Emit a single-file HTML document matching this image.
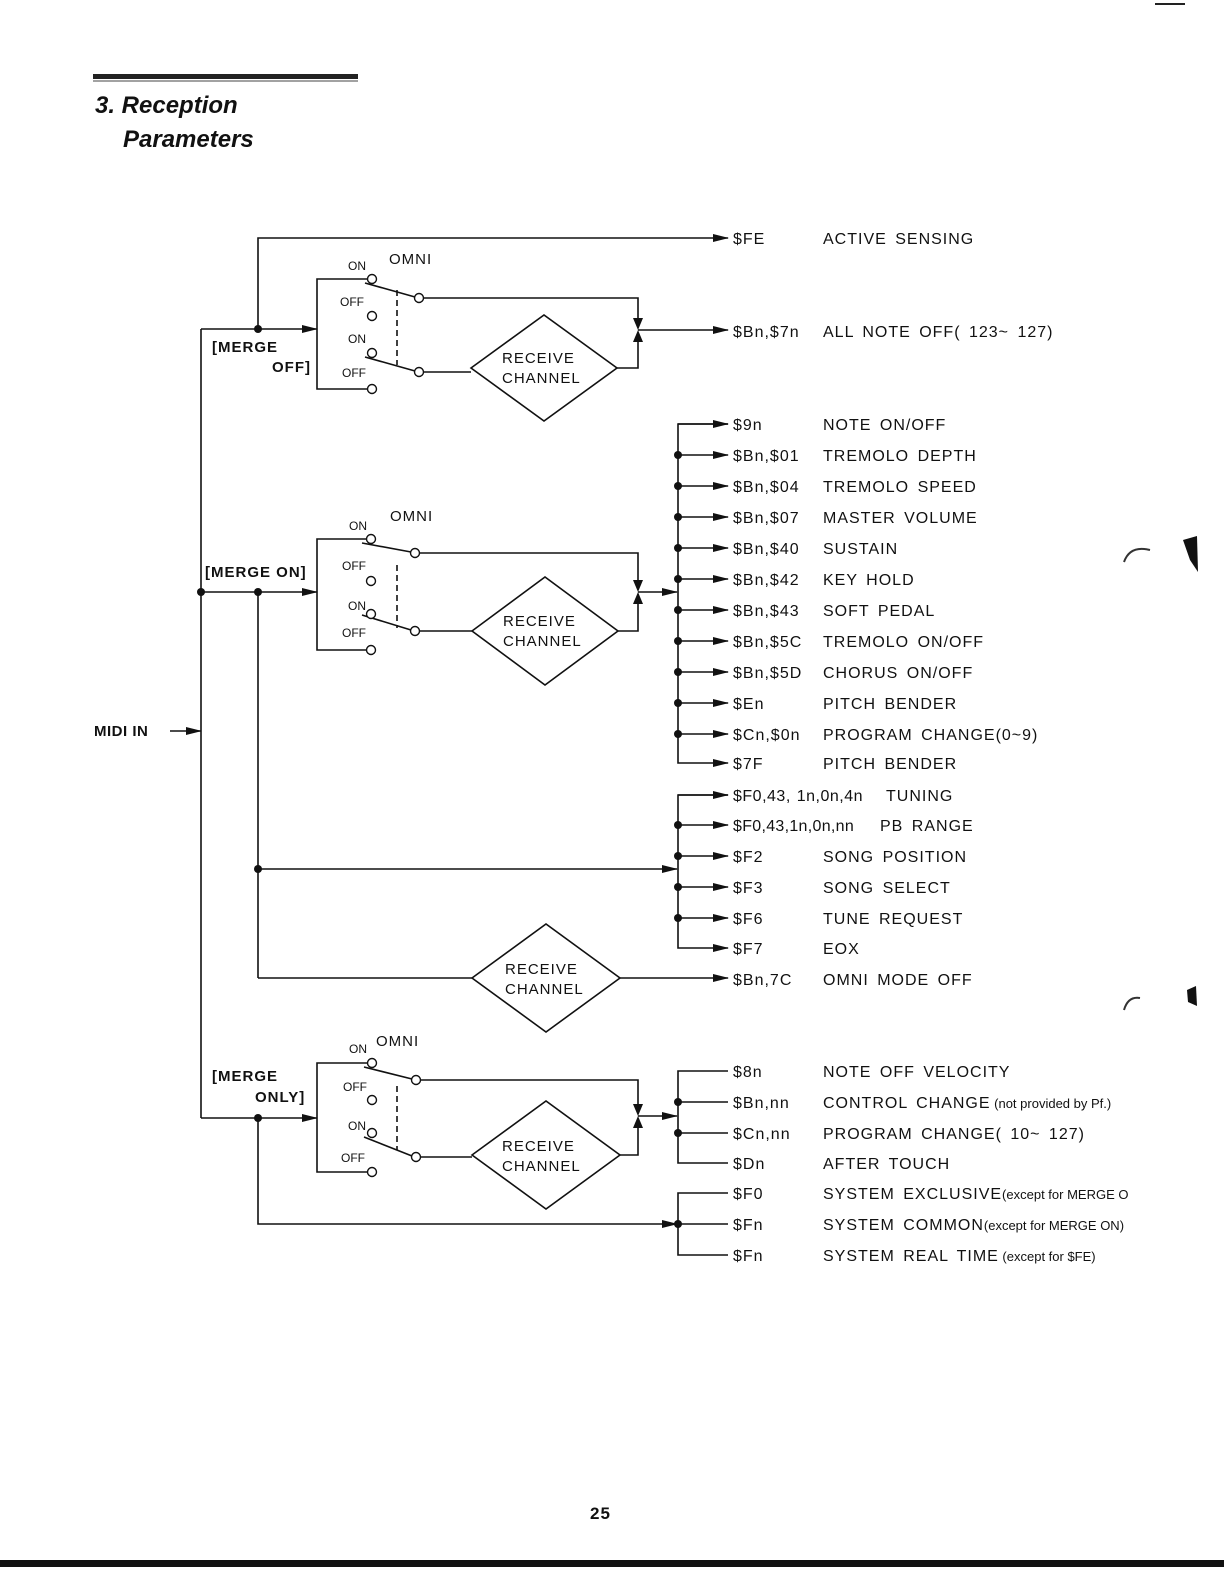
<!DOCTYPE html>
<html><head><meta charset="utf-8"><style>
body{margin:0;background:#fff}
svg{display:block}
text{font-family:"Liberation Sans",sans-serif;fill:#111}
.t{font-size:16px;letter-spacing:1px;word-spacing:3px}
.s{font-size:12px}
.b{font-weight:bold;font-size:15px;letter-spacing:1px}
</style></head><body>
<svg width="1224" height="1584" viewBox="0 0 1224 1584" xmlns="http://www.w3.org/2000/svg">
<defs>
<marker id="a" markerWidth="16" markerHeight="10" refX="15" refY="5" orient="auto" markerUnits="userSpaceOnUse"><path d="M0,1 L16,5 L0,9 Z" fill="#111"/></marker>
</defs>
<rect x="93" y="74" width="265" height="5" fill="#222"/>
<line x1="93" y1="81" x2="358" y2="81" stroke="#444" stroke-width="1"/>
<text x="95" y="113" style="font-size:24px;font-weight:bold;font-style:italic">3. Reception</text>
<text x="123" y="147" style="font-size:24px;font-weight:bold;font-style:italic">Parameters</text>
<line x1="1155" y1="4" x2="1185" y2="4" stroke="#222" stroke-width="2"/>
<g stroke="#111" stroke-width="1.6" fill="none">
<polyline points="258,329 258,238 728,238" marker-end="url(#a)"/>
<line x1="201" y1="329" x2="317" y2="329" marker-end="url(#a)"/>
<polyline points="368,279 317,279 317,389 368,389"/>
<line x1="365" y1="283" x2="415" y2="297"/>
<line x1="365" y1="357" x2="415" y2="371"/>
<line x1="397" y1="290" x2="397" y2="365" stroke-dasharray="6,4"/>
<polyline points="423,298 638,298 638,322"/>
<polyline points="423,372 471,372"/>
<polygon points="471,368 544,315 617,368 544,421"/>
<polyline points="617,368 638,368 638,336"/>
<line x1="638" y1="330" x2="728" y2="330" marker-end="url(#a)"/>
<line x1="201" y1="329" x2="201" y2="1118"/>
<line x1="170" y1="731" x2="201" y2="731" marker-end="url(#a)"/>
<line x1="201" y1="592" x2="317" y2="592" marker-end="url(#a)"/>
<polyline points="366,539 317,539 317,650 366,650"/>
<line x1="362" y1="543" x2="411" y2="552"/>
<line x1="362" y1="615" x2="411" y2="630"/>
<line x1="397" y1="565" x2="397" y2="628" stroke-dasharray="6,4"/>
<polyline points="419,553 638,553 638,582"/>
<line x1="419" y1="631" x2="472" y2="631"/>
<polygon points="472,631 545,577 618,631 545,685"/>
<polyline points="618,631 638,631 638,600"/>
<line x1="638" y1="592" x2="677" y2="592" marker-end="url(#a)"/>
<line x1="258" y1="592" x2="258" y2="978"/>
<polyline points="728,424 678,424 678,763 728,763" marker-end="url(#a)"/>
<line x1="678" y1="424" x2="728" y2="424" marker-end="url(#a)"/>
<line x1="678" y1="455" x2="728" y2="455" marker-end="url(#a)"/><line x1="678" y1="486" x2="728" y2="486" marker-end="url(#a)"/>
<line x1="678" y1="517" x2="728" y2="517" marker-end="url(#a)"/><line x1="678" y1="548" x2="728" y2="548" marker-end="url(#a)"/>
<line x1="678" y1="579" x2="728" y2="579" marker-end="url(#a)"/><line x1="678" y1="610" x2="728" y2="610" marker-end="url(#a)"/>
<line x1="678" y1="641" x2="728" y2="641" marker-end="url(#a)"/><line x1="678" y1="672" x2="728" y2="672" marker-end="url(#a)"/>
<line x1="678" y1="703" x2="728" y2="703" marker-end="url(#a)"/><line x1="678" y1="734" x2="728" y2="734" marker-end="url(#a)"/>
<polyline points="728,795 678,795 678,948 728,948" marker-end="url(#a)"/>
<line x1="678" y1="795" x2="728" y2="795" marker-end="url(#a)"/>
<line x1="678" y1="825" x2="728" y2="825" marker-end="url(#a)"/><line x1="678" y1="856" x2="728" y2="856" marker-end="url(#a)"/>
<line x1="678" y1="887" x2="728" y2="887" marker-end="url(#a)"/><line x1="678" y1="918" x2="728" y2="918" marker-end="url(#a)"/>
<line x1="258" y1="869" x2="677" y2="869" marker-end="url(#a)"/>
<line x1="258" y1="978" x2="472" y2="978"/>
<polygon points="472,978 546,924 620,978 546,1032"/>
<line x1="620" y1="978" x2="728" y2="978" marker-end="url(#a)"/>
<line x1="201" y1="1118" x2="317" y2="1118" marker-end="url(#a)"/>
<polyline points="368,1063 317,1063 317,1172 368,1172"/>
<line x1="364" y1="1067" x2="412" y2="1079"/>
<line x1="364" y1="1137" x2="412" y2="1156"/>
<line x1="397" y1="1086" x2="397" y2="1150" stroke-dasharray="6,4"/>
<polyline points="420,1080 638,1080 638,1108"/>
<line x1="420" y1="1157" x2="472" y2="1157"/>
<polygon points="472,1155 546,1101 620,1155 546,1209"/>
<polyline points="620,1155 638,1155 638,1125"/>
<line x1="638" y1="1116" x2="677" y2="1116" marker-end="url(#a)"/>
<polyline points="728,1071 678,1071 678,1163 728,1163"/>
<line x1="678" y1="1102" x2="728" y2="1102"/><line x1="678" y1="1133" x2="728" y2="1133"/>
<polyline points="728,1193 678,1193 678,1255 728,1255"/>
<line x1="678" y1="1224" x2="728" y2="1224"/>
<polyline points="258,1118 258,1224 677,1224" marker-end="url(#a)"/>
</g>
<g fill="#111">
<path d="M633,318 L643,318 L638,330 Z"/><path d="M633,342 L643,342 L638,330 Z"/>
<path d="M633,580 L643,580 L638,592 Z"/><path d="M633,604 L643,604 L638,592 Z"/>
<path d="M633,1104 L643,1104 L638,1116 Z"/><path d="M633,1128 L643,1128 L638,1116 Z"/>
<circle cx="258" cy="329" r="4"/><circle cx="201" cy="592" r="4"/><circle cx="258" cy="592" r="4"/>
<circle cx="258" cy="869" r="4"/><circle cx="258" cy="1118" r="4"/>
<circle cx="678" cy="455" r="4"/><circle cx="678" cy="486" r="4"/><circle cx="678" cy="517" r="4"/>
<circle cx="678" cy="548" r="4"/><circle cx="678" cy="579" r="4"/><circle cx="678" cy="610" r="4"/>
<circle cx="678" cy="641" r="4"/><circle cx="678" cy="672" r="4"/><circle cx="678" cy="703" r="4"/>
<circle cx="678" cy="734" r="4"/>
<circle cx="678" cy="825" r="4"/><circle cx="678" cy="856" r="4"/><circle cx="678" cy="887" r="4"/><circle cx="678" cy="918" r="4"/>
<circle cx="678" cy="1102" r="4"/><circle cx="678" cy="1133" r="4"/><circle cx="678" cy="1224" r="4"/>
</g>
<g fill="#fff" stroke="#111" stroke-width="1.4">
<circle cx="372" cy="279" r="4.5"/><circle cx="372" cy="316" r="4.5"/><circle cx="372" cy="353" r="4.5"/><circle cx="372" cy="389" r="4.5"/>
<circle cx="419" cy="298" r="4.5"/><circle cx="419" cy="372" r="4.5"/>
<circle cx="371" cy="539" r="4.5"/><circle cx="371" cy="581" r="4.5"/><circle cx="371" cy="614" r="4.5"/><circle cx="371" cy="650" r="4.5"/>
<circle cx="415" cy="553" r="4.5"/><circle cx="415" cy="631" r="4.5"/>
<circle cx="372" cy="1063" r="4.5"/><circle cx="372" cy="1100" r="4.5"/><circle cx="372" cy="1133" r="4.5"/><circle cx="372" cy="1172" r="4.5"/>
<circle cx="416" cy="1080" r="4.5"/><circle cx="416" cy="1157" r="4.5"/>
</g>
<g class="s">
<text x="348" y="270">ON</text><text x="340" y="306">OFF</text><text x="348" y="343">ON</text><text x="342" y="377">OFF</text>
<text x="349" y="530">ON</text><text x="342" y="570">OFF</text><text x="348" y="610">ON</text><text x="342" y="637">OFF</text>
<text x="349" y="1053">ON</text><text x="343" y="1091">OFF</text><text x="348" y="1130">ON</text><text x="341" y="1162">OFF</text>
</g>
<g class="t" style="font-size:15px">
<text x="389" y="264">OMNI</text><text x="390" y="521">OMNI</text><text x="376" y="1046">OMNI</text>
<text x="502" y="363">RECEIVE</text><text x="502" y="383">CHANNEL</text>
<text x="503" y="626">RECEIVE</text><text x="503" y="646">CHANNEL</text>
<text x="505" y="974">RECEIVE</text><text x="505" y="994">CHANNEL</text>
<text x="502" y="1151">RECEIVE</text><text x="502" y="1171">CHANNEL</text>
</g>
<g class="b">
<text x="212" y="352">[MERGE</text><text x="272" y="372">OFF]</text>
<text x="205" y="577">[MERGE ON]</text>
<text x="212" y="1081">[MERGE</text><text x="255" y="1102">ONLY]</text>
<text x="94" y="736" style="letter-spacing:0.5px">MIDI IN</text>
<text x="590" y="1519" style="font-size:17px">25</text>
</g>
<g class="t">
<text x="733" y="244">$FE</text><text x="823" y="244">ACTIVE SENSING</text>
<text x="733" y="337">$Bn,$7n</text><text x="823" y="337">ALL NOTE OFF( 123~ 127)</text>
<text x="733" y="430">$9n</text><text x="823" y="430">NOTE ON/OFF</text>
<text x="733" y="461">$Bn,$01</text><text x="823" y="461">TREMOLO DEPTH</text>
<text x="733" y="492">$Bn,$04</text><text x="823" y="492">TREMOLO SPEED</text>
<text x="733" y="523">$Bn,$07</text><text x="823" y="523">MASTER VOLUME</text>
<text x="733" y="554">$Bn,$40</text><text x="823" y="554">SUSTAIN</text>
<text x="733" y="585">$Bn,$42</text><text x="823" y="585">KEY HOLD</text>
<text x="733" y="616">$Bn,$43</text><text x="823" y="616">SOFT PEDAL</text>
<text x="733" y="647">$Bn,$5C</text><text x="823" y="647">TREMOLO ON/OFF</text>
<text x="733" y="678">$Bn,$5D</text><text x="823" y="678">CHORUS ON/OFF</text>
<text x="733" y="709">$En</text><text x="823" y="709">PITCH BENDER</text>
<text x="733" y="740">$Cn,$0n</text><text x="823" y="740">PROGRAM CHANGE(0~9)</text>
<text x="733" y="769">$7F</text><text x="823" y="769">PITCH BENDER</text>
<text x="733" y="801" style="letter-spacing:0.5px;word-spacing:1px">$F0,43, 1n,0n,4n</text><text x="886" y="801">TUNING</text>
<text x="733" y="831" style="letter-spacing:0.3px">$F0,43,1n,0n,nn</text><text x="880" y="831">PB RANGE</text>
<text x="733" y="862">$F2</text><text x="823" y="862">SONG POSITION</text>
<text x="733" y="893">$F3</text><text x="823" y="893">SONG SELECT</text>
<text x="733" y="924">$F6</text><text x="823" y="924">TUNE REQUEST</text>
<text x="733" y="954">$F7</text><text x="823" y="954">EOX</text>
<text x="733" y="985">$Bn,7C</text><text x="823" y="985">OMNI MODE OFF</text>
<text x="733" y="1077">$8n</text><text x="823" y="1077">NOTE OFF VELOCITY</text>
<text x="733" y="1108">$Bn,nn</text><text x="823" y="1108">CONTROL CHANGE<tspan style="font-size:13px;letter-spacing:0;word-spacing:0"> (not provided by Pf.)</tspan></text>
<text x="733" y="1139">$Cn,nn</text><text x="823" y="1139">PROGRAM CHANGE( 10~ 127)</text>
<text x="733" y="1169">$Dn</text><text x="823" y="1169">AFTER TOUCH</text>
<text x="733" y="1199">$F0</text><text x="823" y="1199">SYSTEM EXCLUSIVE<tspan style="font-size:13px;letter-spacing:0;word-spacing:0">(except for MERGE O</tspan></text>
<text x="733" y="1230">$Fn</text><text x="823" y="1230">SYSTEM COMMON<tspan style="font-size:13px;letter-spacing:0;word-spacing:0">(except for MERGE ON)</tspan></text>
<text x="733" y="1261">$Fn</text><text x="823" y="1261">SYSTEM REAL TIME<tspan style="font-size:13px;letter-spacing:0;word-spacing:0"> (except for $FE)</tspan></text>
</g>
<path d="M1183,540 L1197,536 L1198,572 L1190,560 Z" fill="#111"/>
<path d="M1124,562 Q1130,545 1150,550" stroke="#333" fill="none" stroke-width="2"/>
<path d="M1187,990 L1196,986 L1197,1006 L1188,1002 Z" fill="#111"/>
<path d="M1124,1010 Q1128,996 1140,998" stroke="#333" fill="none" stroke-width="2"/>
<rect x="0" y="1560" width="1224" height="7" fill="#111"/>
</svg>
</body></html>
